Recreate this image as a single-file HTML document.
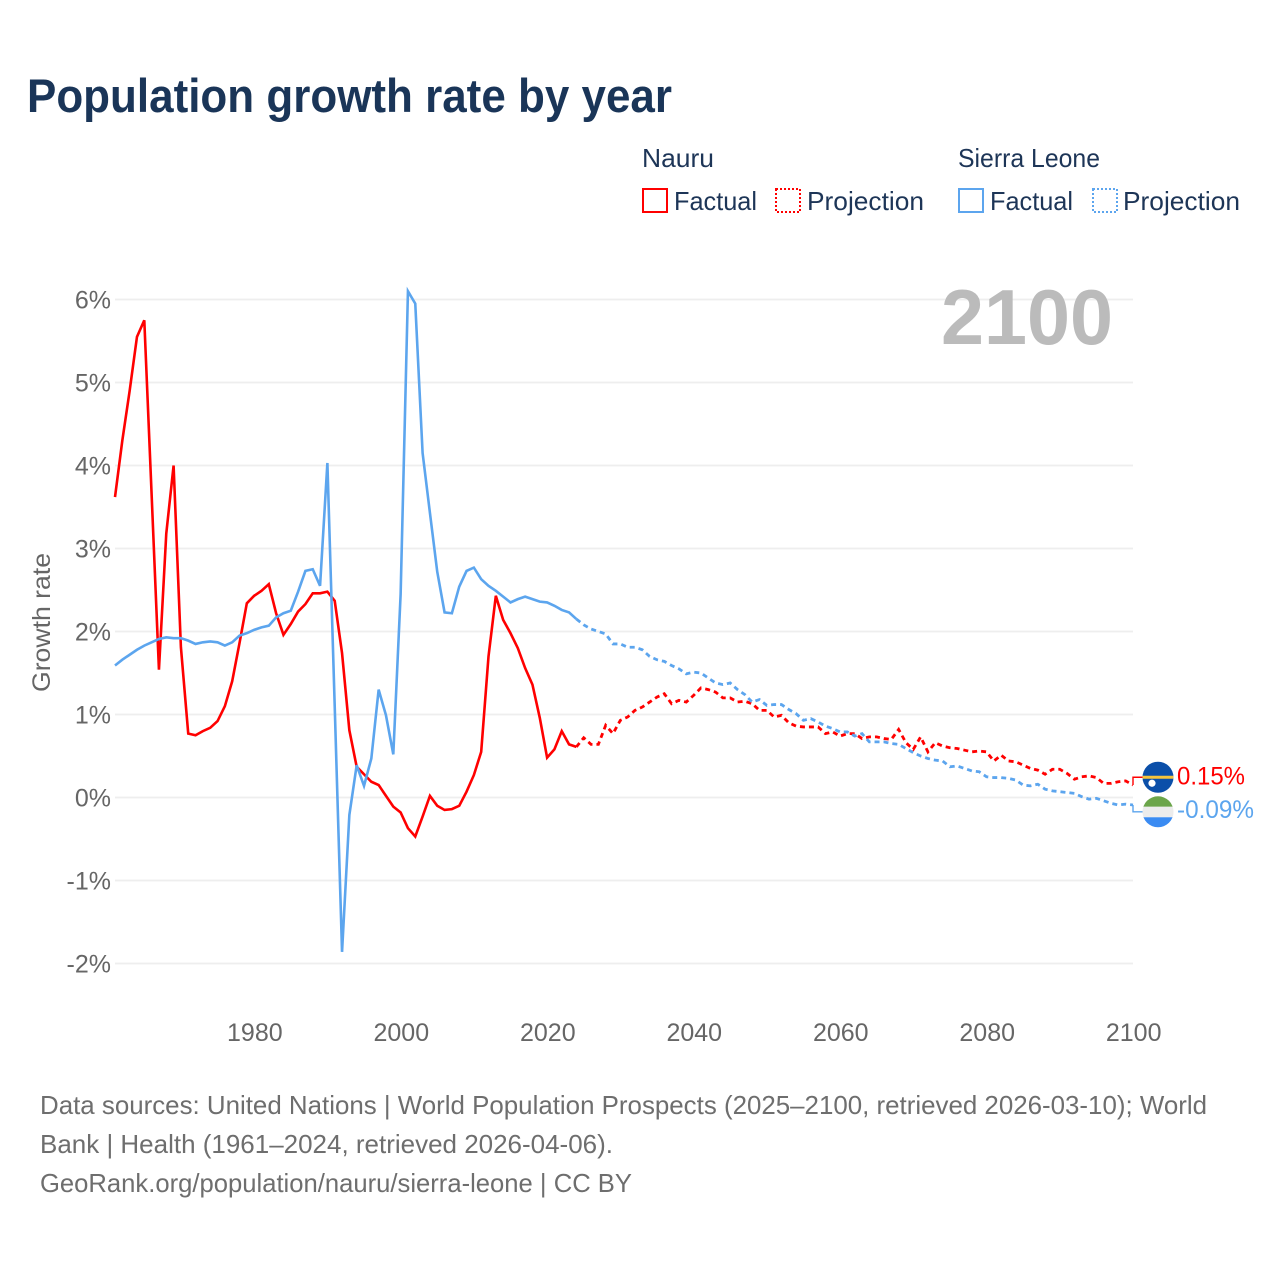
<!DOCTYPE html>
<html lang="en">
<head>
<meta charset="utf-8">
<title>Population growth rate by year</title>
<style>
html,body{margin:0;padding:0;background:#fff;}
svg{display:block;font-family:"Liberation Sans",sans-serif;}
</style>
</head>
<body>
<svg id="chart" xmlns="http://www.w3.org/2000/svg" width="1280" height="1280" viewBox="0 0 1280 1280">
  <rect x="0" y="0" width="1280" height="1280" fill="#ffffff"/>
  <text x="27" y="112" font-size="47" font-weight="700" fill="#1a3558" textLength="645" lengthAdjust="spacingAndGlyphs">Population growth rate by year</text>

  <g font-size="26" fill="#1d3557">
    <text x="642" y="167" textLength="72" lengthAdjust="spacingAndGlyphs">Nauru</text>
    <text x="958" y="167" textLength="142" lengthAdjust="spacingAndGlyphs">Sierra Leone</text>
    <rect x="643" y="189" width="24" height="23" fill="none" stroke="#ff0000" stroke-width="2"/>
    <text x="674" y="210" textLength="83" lengthAdjust="spacingAndGlyphs">Factual</text>
    <rect x="776" y="189" width="24" height="23" fill="none" stroke="#ff0000" stroke-width="2" stroke-dasharray="2 2"/>
    <text x="807" y="210" textLength="117" lengthAdjust="spacingAndGlyphs">Projection</text>
    <rect x="959" y="189" width="24" height="23" fill="none" stroke="#5ca5ee" stroke-width="2"/>
    <text x="990" y="210" textLength="83" lengthAdjust="spacingAndGlyphs">Factual</text>
    <rect x="1093" y="189" width="24" height="23" fill="none" stroke="#5ca5ee" stroke-width="2" stroke-dasharray="2 2"/>
    <text x="1123" y="210" textLength="117" lengthAdjust="spacingAndGlyphs">Projection</text>
  </g>

  <g id="grid"></g>
  <text x="941" y="344" font-size="78" font-weight="700" fill="#bbbbbb" textLength="172" lengthAdjust="spacingAndGlyphs">2100</text>
  <text transform="translate(50,692) rotate(-90)" x="0" y="0" font-size="25" fill="#666666" textLength="139" lengthAdjust="spacingAndGlyphs">Growth rate</text>
  <g id="yticks"></g>
  <g id="xticks"></g>
  <g id="series"></g>
  <g id="endmarks"></g>

  <g font-size="26" fill="#6e6e6e">
    <text x="40" y="1114" textLength="1167" lengthAdjust="spacingAndGlyphs">Data sources: United Nations | World Population Prospects (2025–2100, retrieved 2026-03-10); World</text>
    <text x="40" y="1153" textLength="573" lengthAdjust="spacingAndGlyphs">Bank | Health (1961–2024, retrieved 2026-04-06).</text>
    <text x="40" y="1192" textLength="592" lengthAdjust="spacingAndGlyphs">GeoRank.org/population/nauru/sierra-leone | CC BY</text>
  </g>
</svg>
<script>
const yTickValues = [6,5,4,3,2,1,0,-1,-2];
const xTickYears = [1980,2000,2020,2040,2060,2080,2100];
const factualStartYear = 1961;
const projectionStartYear = 2024;
const nauruFactual = [3.62,4.30,4.90,5.55,5.75,3.65,1.54,3.18,4.00,1.81,0.77,0.75,0.80,0.84,0.92,1.10,1.40,1.86,2.34,2.43,2.49,2.57,2.22,1.96,2.09,2.24,2.33,2.46,2.46,2.48,2.37,1.74,0.81,0.37,0.28,0.19,0.15,0.02,-0.11,-0.18,-0.37,-0.47,-0.23,0.02,-0.10,-0.15,-0.14,-0.10,0.07,0.27,0.55,1.70,2.43,2.14,1.98,1.80,1.56,1.36,0.96,0.48,0.58,0.80,0.64,0.61];
const nauruProjection = [0.61,0.72,0.64,0.64,0.87,0.77,0.93,0.97,1.05,1.09,1.15,1.21,1.25,1.13,1.17,1.15,1.23,1.32,1.30,1.27,1.20,1.20,1.15,1.16,1.13,1.05,1.05,0.97,0.99,0.90,0.86,0.85,0.85,0.85,0.77,0.79,0.74,0.77,0.77,0.71,0.73,0.73,0.71,0.70,0.82,0.66,0.58,0.73,0.55,0.66,0.62,0.60,0.59,0.57,0.55,0.56,0.55,0.44,0.51,0.44,0.43,0.39,0.35,0.33,0.28,0.34,0.34,0.29,0.22,0.25,0.26,0.24,0.17,0.17,0.19,0.20,0.15];
const sierraFactual = [1.59,1.66,1.72,1.78,1.83,1.87,1.91,1.93,1.92,1.92,1.89,1.85,1.87,1.88,1.87,1.83,1.87,1.95,1.98,2.02,2.05,2.07,2.17,2.22,2.25,2.48,2.73,2.75,2.55,4.03,1.10,-1.86,-0.21,0.39,0.14,0.47,1.30,0.99,0.52,2.45,6.10,5.95,4.15,3.43,2.72,2.23,2.22,2.54,2.73,2.77,2.63,2.55,2.49,2.42,2.35,2.39,2.42,2.39,2.36,2.35,2.31,2.26,2.23,2.15];
const sierraProjection = [2.15,2.08,2.03,2.00,1.97,1.85,1.85,1.81,1.81,1.78,1.70,1.66,1.64,1.59,1.55,1.49,1.51,1.50,1.44,1.38,1.36,1.38,1.30,1.24,1.15,1.18,1.11,1.12,1.12,1.06,1.01,0.93,0.95,0.91,0.86,0.83,0.79,0.79,0.74,0.77,0.67,0.67,0.67,0.65,0.64,0.59,0.54,0.50,0.47,0.45,0.44,0.37,0.38,0.35,0.32,0.31,0.25,0.24,0.24,0.23,0.21,0.15,0.14,0.16,0.10,0.08,0.07,0.06,0.05,0.01,-0.02,-0.01,-0.04,-0.07,-0.09,-0.08,-0.09];

const NS = 'http://www.w3.org/2000/svg';
const RED = '#ff0000';
const BLUE = '#5ca5ee';
const xScale = function (year) { return 115 + (year - 1961) * (1133 - 115) / 139; };
const yScale = function (v) { return 797.5 - v * 83; };

function make(tag, attrs, parent, txt) {
  const el = document.createElementNS(NS, tag);
  Object.keys(attrs).forEach(function (k) { el.setAttribute(k, attrs[k]); });
  if (txt !== undefined) el.textContent = txt;
  parent.appendChild(el);
  return el;
}
function linePath(values, startYear) {
  return values.map(function (v, i) {
    return (i ? 'L' : 'M') + xScale(startYear + i).toFixed(2) + ' ' + yScale(v).toFixed(2);
  }).join(' ');
}

const grid = document.getElementById('grid');
const yticks = document.getElementById('yticks');
yTickValues.forEach(function (v) {
  const g = make('line', {x1: 115, x2: 1133, y1: yScale(v), y2: yScale(v), stroke: '#eeeeee', 'stroke-width': 1.8}, grid);
  
  
  const label = v + '%';
  const t = make('text', {x: 111, y: yScale(v) + 9, 'text-anchor': 'end', 'font-size': 25, fill: '#666666'}, yticks, label);
  
  
});

const xticks = document.getElementById('xticks');
xTickYears.forEach(function (yr) {
  const t = make('text', {x: xScale(yr) + 0.7, y: 1041, 'text-anchor': 'middle', 'font-size': 25, fill: '#666666'}, xticks, String(yr));
  
  
});

const series = document.getElementById('series');
const nf = make('path', {d: linePath(nauruFactual, factualStartYear), fill: 'none', stroke: RED, 'stroke-width': 2.6, 'stroke-linejoin': 'miter'}, series);


const np = make('path', {d: linePath(nauruProjection, projectionStartYear), fill: 'none', stroke: RED, 'stroke-width': 2.8, 'stroke-dasharray': '5 4'}, series);


const sf = make('path', {d: linePath(sierraFactual, factualStartYear), fill: 'none', stroke: BLUE, 'stroke-width': 2.6, 'stroke-linejoin': 'miter'}, series);


const sp = make('path', {d: linePath(sierraProjection, projectionStartYear), fill: 'none', stroke: BLUE, 'stroke-width': 2.8, 'stroke-dasharray': '5 4'}, series);



const ends = document.getElementById('endmarks');
const nauruLast = nauruProjection[nauruProjection.length - 1];
const sierraLast = sierraProjection[sierraProjection.length - 1];
const nauruY = yScale(nauruLast) - 7.8;
const sierraY = yScale(sierraLast) + 6.8;
const xEnd = xScale(2100);

const nc = make('path', {d: 'M' + xEnd + ' ' + yScale(nauruLast) + ' V' + nauruY + ' H1143', fill: 'none', stroke: RED, 'stroke-width': 1.4}, ends);


const sc = make('path', {d: 'M' + xEnd + ' ' + yScale(sierraLast) + ' V' + sierraY + ' H1143', fill: 'none', stroke: BLUE, 'stroke-width': 1.4}, ends);



const defs = make('defs', {}, ends);
const cpN = make('clipPath', {id: 'clip-nauru'}, defs);
make('circle', {cx: 1158, cy: nauruY, r: 15.5}, cpN);
const cpS = make('clipPath', {id: 'clip-sierra'}, defs);
make('circle', {cx: 1158, cy: sierraY, r: 15.5}, cpS);

const nFlag = make('g', {'clip-path': 'url(#clip-nauru)'}, ends);


make('rect', {x: 1142, y: nauruY - 16, width: 32, height: 32, fill: '#0b4fa9'}, nFlag);
make('rect', {x: 1142, y: nauruY - 1.5, width: 32, height: 3, fill: '#f5c43c'}, nFlag);
make('circle', {cx: 1152, cy: nauruY + 6, r: 3.6, fill: '#ffffff'}, nFlag);

const sFlag = make('g', {'clip-path': 'url(#clip-sierra)'}, ends);


make('rect', {x: 1142, y: sierraY - 16, width: 32, height: 11, fill: '#6ba54a'}, sFlag);
make('rect', {x: 1142, y: sierraY - 5, width: 32, height: 10.5, fill: '#ececec'}, sFlag);
make('rect', {x: 1142, y: sierraY + 5.5, width: 32, height: 11, fill: '#3a8bf2'}, sFlag);

const nauruText = nauruLast.toFixed(2) + '%';
const sierraText = sierraLast.toFixed(2) + '%';
const nl = make('text', {x: 1177, y: nauruY + 7, 'font-size': 25, fill: RED, textLength: 68, lengthAdjust: 'spacingAndGlyphs'}, ends, nauruText);


const sl = make('text', {x: 1177, y: sierraY + 6, 'font-size': 25, fill: BLUE, textLength: 77, lengthAdjust: 'spacingAndGlyphs'}, ends, sierraText);


</script>
</body>
</html>
